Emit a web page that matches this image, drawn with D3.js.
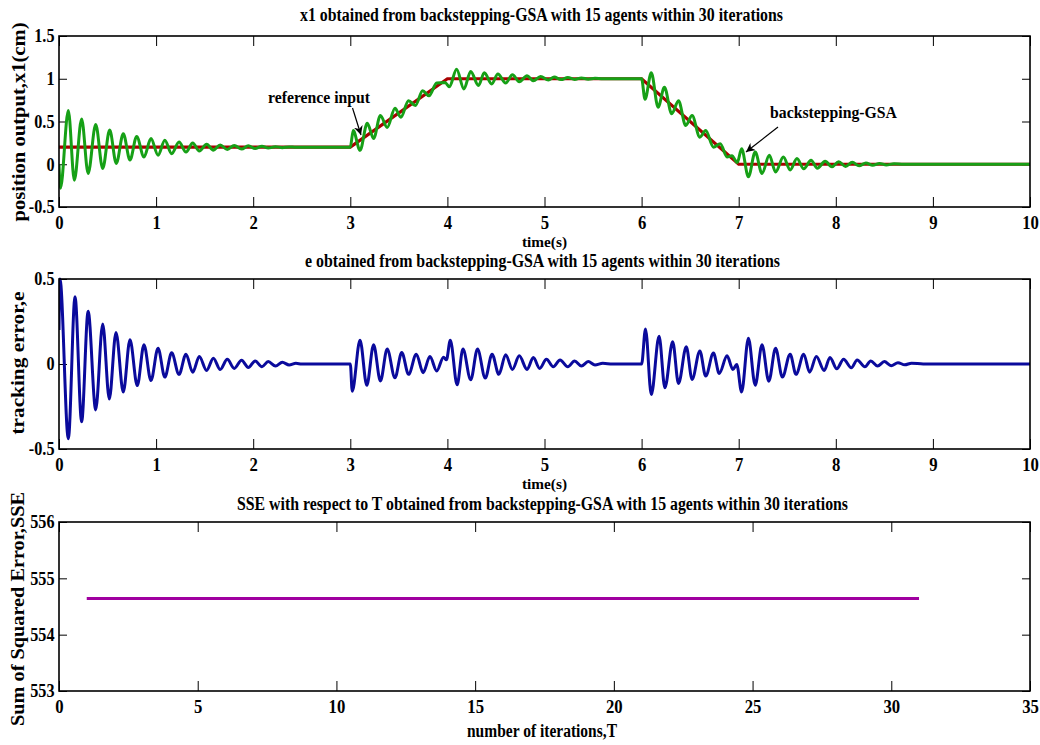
<!DOCTYPE html>
<html>
<head>
<meta charset="utf-8">
<script src="https://cdn.jsdelivr.net/npm/d3@7/dist/d3.min.js"></script>
<style>
  html, body { margin: 0; padding: 0; background: #fff; }
  text { font-family: "Liberation Serif", "Times New Roman", serif; font-weight: bold; fill: #000; }
</style>
</head>
<body>
<script>
// ---------------- DATA ----------------
const timeTicks = [0, 1, 2, 3, 4, 5, 6, 7, 8, 9, 10];
const x1Ticks = [-0.5, 0, 0.5, 1, 1.5];
const x1TickLabels = ["-0.5", "0", "0.5", "1", "1.5"];
const eTicks = [-0.5, 0, 0.5];
const eTickLabels = ["-0.5", "0", "0.5"];
const iterTicks = [0, 5, 10, 15, 20, 25, 30, 35];
const sseTicks = [553, 554, 555, 556];

// reference input (piecewise linear)
const refTime  = [0, 3, 4, 6, 7, 10];
const refValue = [0.2, 0.2, 1, 1, 0, 0];

// backstepping-GSA position output x1 (extrema)
const x1Time = [0, 0.015, 0.096, 0.158, 0.233, 0.30, 0.378, 0.45, 0.522, 0.59, 0.662, 0.731, 0.80, 0.875, 0.947, 1.02, 1.09, 1.16, 1.236, 1.308, 1.377, 1.445, 1.52, 1.59, 1.66, 1.733, 1.805, 1.88, 1.95, 2.02, 2.09, 2.155, 2.23, 2.30, 2.37, 2.44, 2.5, 3.0,
  3.03, 3.10, 3.175, 3.24, 3.31, 3.38, 3.46, 3.52, 3.60, 3.67, 3.745, 3.81, 3.89, 3.975, 4.02, 4.095, 4.17, 4.24, 4.32, 4.38, 4.456, 4.52, 4.60, 4.67, 4.74, 4.82, 4.885, 4.96, 5.04, 5.10, 5.17, 5.24, 5.31, 5.38, 5.45, 5.52, 5.6, 6.0,
  6.035, 6.10, 6.17, 6.235, 6.31, 6.38, 6.454, 6.52, 6.60, 6.66, 6.74, 6.81, 6.88, 6.93, 6.985, 7.03, 7.10, 7.17, 7.24, 7.315, 7.38, 7.46, 7.53, 7.60, 7.67, 7.745, 7.81, 7.89, 7.96, 8.03, 8.10, 8.17, 8.24, 8.31, 8.38, 8.45, 8.52, 8.6, 8.7, 10];
const x1Value = [0, -0.28, 0.628, -0.186, 0.53, -0.108, 0.465, -0.05, 0.40, 0.01, 0.357, 0.05, 0.326, 0.085, 0.30, 0.105, 0.28, 0.124, 0.26, 0.143, 0.248, 0.155, 0.233, 0.165, 0.225, 0.172, 0.22, 0.178, 0.215, 0.184, 0.21, 0.19, 0.206, 0.194, 0.203, 0.198, 0.2, 0.2,
  0.395, 0.163, 0.48, 0.30, 0.57, 0.43, 0.655, 0.55, 0.744, 0.686, 0.86, 0.80, 0.95, 0.957, 0.907, 1.11, 0.88, 1.085, 0.92, 1.07, 0.94, 1.055, 0.95, 1.047, 0.965, 1.035, 0.977, 1.027, 0.985, 1.02, 0.99, 1.015, 0.992, 1.01, 0.995, 1.005, 1.0, 1.0,
  0.76, 1.07, 0.667, 0.90, 0.59, 0.744, 0.453, 0.57, 0.317, 0.395, 0.20, 0.24, 0.085, 0.10, 0.02, 0.18, -0.147, 0.143, -0.108, 0.105, -0.09, 0.085, -0.066, 0.066, -0.054, 0.047, -0.047, 0.035, -0.03, 0.03, -0.025, 0.022, -0.018, 0.015, -0.012, 0.01, -0.008, 0.005, 0.0, 0.0];

// tracking error e (extrema)
const eTime = [0, 0.01, 0.096, 0.165, 0.233, 0.30, 0.378, 0.45, 0.518, 0.587, 0.662, 0.731, 0.806, 0.875, 0.947, 1.02, 1.09, 1.16, 1.236, 1.308, 1.377, 1.445, 1.52, 1.59, 1.66, 1.733, 1.805, 1.88, 1.95, 2.02, 2.09, 2.155, 2.23, 2.30, 2.37, 2.44, 2.5, 3.0,
  3.02, 3.10, 3.17, 3.24, 3.31, 3.38, 3.46, 3.53, 3.60, 3.68, 3.75, 3.82, 3.89, 3.96, 3.99, 4.03, 4.10, 4.16, 4.24, 4.31, 4.39, 4.46, 4.53, 4.60, 4.67, 4.74, 4.82, 4.885, 4.95, 5.02, 5.09, 5.16, 5.24, 5.31, 5.38, 5.45, 5.52, 5.6, 5.7, 6.0,
  6.04, 6.10, 6.18, 6.24, 6.32, 6.38, 6.46, 6.52, 6.60, 6.66, 6.74, 6.80, 6.88, 6.94, 6.98, 7.03, 7.10, 7.17, 7.24, 7.31, 7.38, 7.45, 7.53, 7.59, 7.67, 7.73, 7.80, 7.88, 7.94, 8.01, 8.08, 8.16, 8.22, 8.30, 8.36, 8.43, 8.50, 8.57, 8.64, 8.71, 8.78, 8.9, 10];
const eValue = [0.2, 0.50, -0.44, 0.395, -0.34, 0.31, -0.27, 0.236, -0.206, 0.186, -0.165, 0.143, -0.127, 0.113, -0.097, 0.093, -0.077, 0.066, -0.061, 0.058, -0.049, 0.044, -0.038, 0.034, -0.032, 0.028, -0.026, 0.022, -0.02, 0.018, -0.016, 0.014, -0.012, 0.01, -0.006, 0.004, 0, 0,
  -0.16, 0.14, -0.125, 0.113, -0.10, 0.088, -0.081, 0.068, -0.061, 0.058, -0.051, 0.044, -0.041, 0.04, 0.025, 0.14, -0.122, 0.088, -0.093, 0.088, -0.083, 0.058, -0.061, 0.054, -0.032, 0.048, -0.032, 0.038, -0.026, 0.028, -0.016, 0.024, -0.016, 0.018, -0.012, 0.014, -0.006, 0.004, 0, 0,
  0.206, -0.18, 0.163, -0.14, 0.131, -0.115, 0.101, -0.091, 0.077, -0.071, 0.064, -0.056, 0.048, -0.032, -0.003, -0.165, 0.151, -0.125, 0.113, -0.101, 0.093, -0.077, 0.058, -0.061, 0.058, -0.048, 0.044, -0.038, 0.038, -0.028, 0.028, -0.022, 0.024, -0.016, 0.018, -0.012, 0.014, -0.01, 0.008, -0.005, 0.005, 0, 0];

// SSE per iteration
const iterations = [1, 2, 3, 4, 5, 6, 7, 8, 9, 10, 11, 12, 13, 14, 15, 16, 17, 18, 19, 20, 21, 22, 23, 24, 25, 26, 27, 28, 29, 30, 31];
const sseValue = [554.64, 554.64, 554.64, 554.64, 554.64, 554.64, 554.64, 554.64, 554.64, 554.64, 554.64, 554.64, 554.64, 554.64, 554.64, 554.64, 554.64, 554.64, 554.64, 554.64, 554.64, 554.64, 554.64, 554.64, 554.64, 554.64, 554.64, 554.64, 554.64, 554.64, 554.64];

// ---------------- DRAW ----------------
const W = 1040, H = 745;
const L = 59, R = 1030;
const svg = d3.select("body").append("svg").attr("width", W).attr("height", H);
svg.append("rect").attr("width", W).attr("height", H).attr("fill", "#fff");

const defs = svg.append("defs");
defs.append("marker").attr("id", "arr").attr("viewBox", "0 0 10 10")
  .attr("refX", 10).attr("refY", 5).attr("markerWidth", 9).attr("markerHeight", 9)
  .attr("markerUnits", "userSpaceOnUse").attr("orient", "auto")
  .append("path").attr("d", "M0,0 L10,5 L0,10 L3,5 z").attr("fill", "#000");

function panel(cfg) {
  const g = svg.append("g");
  const x = d3.scaleLinear().domain(cfg.xDomain).range([L, R]);
  const y = d3.scaleLinear().domain(cfg.yDomain).range([cfg.bottom, cfg.top]);

  const ax = (gen, tr) => g.append("g").attr("transform", tr).call(gen).call(s => s.select(".domain").remove());
  const bx = ax(d3.axisBottom(x).tickValues(cfg.xTicks).tickSizeInner(-10).tickSizeOuter(0).tickPadding(9).tickFormat(d3.format("d")), `translate(0,${cfg.bottom})`);
  bx.selectAll("text").attr("font-size", 19).attr("transform", "scale(0.88,1)").attr("font-family", null);
  ax(d3.axisTop(x).tickValues(cfg.xTicks).tickSizeInner(-10).tickSizeOuter(0).tickFormat(""), `translate(0,${cfg.top})`);
  const ly = ax(d3.axisLeft(y).tickValues(cfg.yTicks).tickSizeInner(-8).tickSizeOuter(0).tickPadding(5)
      .tickFormat((d, i) => cfg.yLabels[i]), `translate(${L},0)`);
  ly.selectAll("text").attr("font-size", 18).attr("transform", "scale(0.9,1)").attr("font-family", null);
  ax(d3.axisRight(y).tickValues(cfg.yTicks).tickSizeInner(-8).tickSizeOuter(0).tickFormat(""), `translate(${R},0)`);
  g.selectAll(".tick line").attr("stroke", "#000").attr("stroke-width", 1);

  const cid = "clip" + cfg.id;
  defs.append("clipPath").attr("id", cid).append("rect")
    .attr("x", L).attr("y", cfg.top - 3).attr("width", R - L).attr("height", cfg.bottom - cfg.top + 6);
  const plot = g.append("g").attr("clip-path", `url(#${cid})`);

  g.append("rect").attr("x", L).attr("y", cfg.top).attr("width", R - L).attr("height", cfg.bottom - cfg.top)
    .attr("fill", "none").attr("stroke", "#000").attr("stroke-width", 1.6);

  g.append("text").attr("x", cfg.titleX).attr("y", cfg.top - cfg.titleGap).attr("font-size", 18)
    .attr("textLength", cfg.titleW).attr("lengthAdjust", "spacingAndGlyphs").text(cfg.title);
  g.append("text").attr("x", cfg.xLabX).attr("y", cfg.xLabY).attr("font-size", cfg.xLabSize)
    .attr("textLength", cfg.xLabW).attr("lengthAdjust", "spacingAndGlyphs").text(cfg.xLabel);
  g.append("text").attr("transform", `translate(${cfg.yLabX},${cfg.yLabC}) rotate(-90)`)
    .attr("text-anchor", "middle").attr("font-size", 18)
    .attr("textLength", cfg.yLabW).attr("lengthAdjust", "spacingAndGlyphs").text(cfg.yLabel);

  return { x, y, plot, g };
}

// ---- Panel 1 ----
const p1 = panel({ id: 1, top: 36, bottom: 207, xDomain: [0, 10], yDomain: [-0.5, 1.5],
  xTicks: timeTicks, yTicks: x1Ticks, yLabels: x1TickLabels,
  title: "x1 obtained from backstepping-GSA with 15 agents within 30 iterations", titleX: 300, titleW: 483, titleGap: 15,
  xLabel: "time(s)", xLabX: 522, xLabY: 247, xLabW: 45, xLabSize: 15,
  yLabel: "position output,x1(cm)", yLabX: 25, yLabC: 122, yLabW: 199 });

const refData = refTime.map((t, i) => [t, refValue[i]]);
const x1Data = x1Time.map((t, i) => [t, x1Value[i]]);
p1.plot.append("path").datum(refData)
  .attr("d", d3.line().x(d => p1.x(d[0])).y(d => p1.y(d[1])))
  .attr("fill", "none").attr("stroke", "#a80000").attr("stroke-width", 3.2);
p1.plot.append("path").datum(x1Data)
  .attr("d", d3.line().curve(d3.curveMonotoneX).x(d => p1.x(d[0])).y(d => p1.y(d[1])))
  .attr("fill", "none").attr("stroke", "#16a016").attr("stroke-width", 3).attr("stroke-linejoin", "round");

p1.g.append("text").attr("x", 268).attr("y", 103).attr("font-size", 17)
  .attr("textLength", 102).attr("lengthAdjust", "spacingAndGlyphs").text("reference input");
p1.g.append("line").attr("x1", 352.5).attr("y1", 108).attr("x2", 361).attr("y2", 135)
  .attr("stroke", "#000").attr("stroke-width", 1.2).attr("marker-end", "url(#arr)");
p1.g.append("text").attr("x", 770).attr("y", 118).attr("font-size", 17)
  .attr("textLength", 127).attr("lengthAdjust", "spacingAndGlyphs").text("backstepping-GSA");
p1.g.append("line").attr("x1", 778).attr("y1", 127).attr("x2", 746).attr("y2", 152)
  .attr("stroke", "#000").attr("stroke-width", 1.2).attr("marker-end", "url(#arr)");

// ---- Panel 2 ----
const p2 = panel({ id: 2, top: 279, bottom: 449, xDomain: [0, 10], yDomain: [-0.5, 0.5],
  xTicks: timeTicks, yTicks: eTicks, yLabels: eTickLabels,
  title: "e obtained from backstepping-GSA with 15 agents within 30 iterations", titleX: 305, titleW: 475, titleGap: 12,
  xLabel: "time(s)", xLabX: 522, xLabY: 489, xLabW: 45, xLabSize: 15,
  yLabel: "tracking error,e", yLabX: 24, yLabC: 363, yLabW: 143 });
const eData = eTime.map((t, i) => [t, eValue[i]]);
p2.plot.append("path").datum(eData)
  .attr("d", d3.line().curve(d3.curveMonotoneX).x(d => p2.x(d[0])).y(d => p2.y(d[1])))
  .attr("fill", "none").attr("stroke", "#0a0a9c").attr("stroke-width", 3).attr("stroke-linejoin", "round");

// ---- Panel 3 ----
const p3 = panel({ id: 3, top: 522, bottom: 691, xDomain: [0, 35], yDomain: [553, 556],
  xTicks: iterTicks, yTicks: sseTicks, yLabels: sseTicks.map(String),
  title: "SSE with respect to T obtained from backstepping-GSA with 15 agents within 30 iterations", titleX: 237, titleW: 611, titleGap: 12,
  xLabel: "number of iterations,T", xLabX: 467, xLabY: 737, xLabW: 150, xLabSize: 18,
  yLabel: "Sum of Squared Error,SSE", yLabX: 24, yLabC: 609, yLabW: 234 });
const sseData = iterations.map((t, i) => [t, sseValue[i]]);
p3.plot.append("path").datum(sseData)
  .attr("d", d3.line().x(d => p3.x(d[0])).y(d => p3.y(d[1])))
  .attr("fill", "none").attr("stroke", "#a000a0").attr("stroke-width", 3);
</script>
</body>
</html>
